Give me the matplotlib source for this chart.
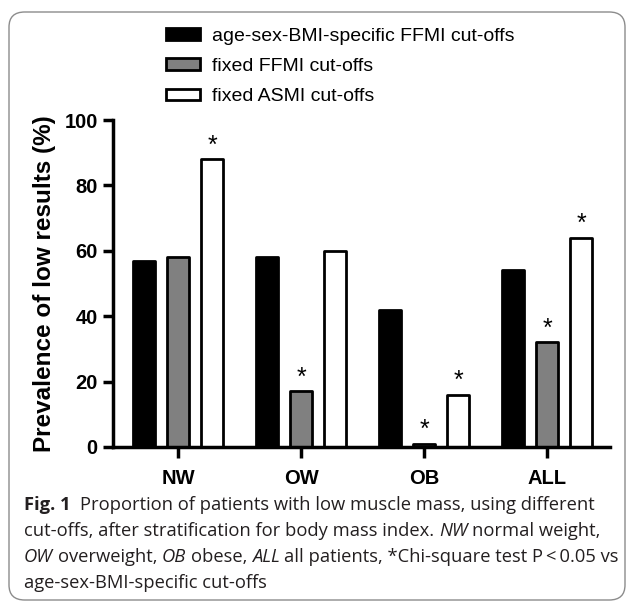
import matplotlib
matplotlib.use('Agg')
import matplotlib.pyplot as plt
import numpy as np
from matplotlib.patches import Patch, FancyBboxPatch

# values
groups = ['NW', 'OW', 'OB', 'ALL']
specific_ffmi = [57, 58, 42, 54]
fixed_ffmi = [58, 17, 1, 32]
fixed_asmi = [88, 60, 16, 64]
series_labels = ['age-sex-BMI-specific FFMI cut-offs', 'fixed FFMI cut-offs', 'fixed ASMI cut-offs']
# * = chi-square p < 0.05 vs age-sex-BMI-specific
star_ffmi = [False, True, True, True]
star_asmi = [True, False, True, True]
yticks = [0, 20, 40, 60, 80, 100]

W, H = 629, 603
chart_font = 'Liberation Sans'
cap_font = 'Open Sans'

fig = plt.figure(figsize=(W / 100, H / 100), dpi=100)

# rounded frame around chart + caption
frame = FancyBboxPatch((9 / W, 1 - 600 / H), 616 / W, 588 / H,
                       boxstyle='round,pad=0,rounding_size=0.025',
                       transform=fig.transFigure, facecolor='white',
                       edgecolor='#8c8c8c', linewidth=1.0, zorder=-5)
fig.patches.append(frame)

ax = fig.add_axes([113 / W, 1 - 447 / H, (610 - 113) / W, (447 - 120) / H])
ax.set_facecolor('none')

x = np.arange(len(groups))
off = 0.277
bw = 0.18
b1 = ax.bar(x - off, specific_ffmi, bw, color='black', edgecolor='black', linewidth=2)
b2 = ax.bar(x, fixed_ffmi, bw, color='#808080', edgecolor='black', linewidth=2)
b3 = ax.bar(x + off, fixed_asmi, bw, color='white', edgecolor='black', linewidth=2)
for bars in (b1, b2, b3):
    for b in bars:
        b.set_joinstyle('round')
        b.set_clip_on(False)

for i in range(len(groups)):
    if star_ffmi[i]:
        ax.text(x[i], fixed_ffmi[i] + 4.2, '*', ha='center', va='center',
                fontsize=18, family=chart_font)
    if star_asmi[i]:
        ax.text(x[i] + off, fixed_asmi[i] + 4.2, '*', ha='center', va='center',
                fontsize=18, family=chart_font)

ax.set_xlim(-0.53, 3.51)
ax.set_ylim(0, 100)
ax.set_yticks(yticks)
ax.set_xticks(x)
ax.set_xticklabels(groups)
for s in ('top', 'right'):
    ax.spines[s].set_visible(False)
for s in ('left', 'bottom'):
    ax.spines[s].set_linewidth(2.5)
ax.tick_params(axis='y', length=7, width=2.5, pad=4)
ax.tick_params(axis='x', length=8, width=2.5, pad=8)
for lab in ax.get_xticklabels() + ax.get_yticklabels():
    lab.set_fontfamily(chart_font)
    lab.set_fontweight('bold')
    lab.set_fontsize(14.5)
ax.set_ylabel('Prevalence of low results (%)', fontsize=17.5, fontweight='bold',
              family=chart_font, labelpad=6)

handles = [Patch(facecolor='black', edgecolor='black', linewidth=2),
           Patch(facecolor='#808080', edgecolor='black', linewidth=2),
           Patch(facecolor='white', edgecolor='black', linewidth=2)]
fig.legend(handles, series_labels, loc='upper left',
           bbox_to_anchor=(166 / W, 1 - 28 / H), frameon=False,
           prop={'family': chart_font, 'size': 14},
           handlelength=1.75, handleheight=0.55, handletextpad=0.6,
           labelspacing=0.68, borderpad=0, borderaxespad=0)

# caption, written segment by segment so bold/italic can be mixed
renderer = fig.canvas.get_renderer()
cap_size = 13.2


def advance(s, style='normal', weight='normal'):
    # width of s including its spaces, measured between two bars
    def w(txt):
        t = fig.text(0, 0, txt, fontsize=cap_size, family=cap_font, style=style, weight=weight)
        v = t.get_window_extent(renderer).width
        t.remove()
        return v
    return w('|' + s + '|') - w('||')


caption = [
    [('Fig. 1', 'normal', 'bold'), ('  Proportion of patients with low muscle mass, using different', 'normal', 'normal')],
    [('cut-offs, after stratification for body mass index. ', 'normal', 'normal'), ('NW', 'italic', 'normal'),
     (' normal weight,', 'normal', 'normal')],
    [('OW', 'italic', 'normal'), (' overweight, ', 'normal', 'normal'), ('OB', 'italic', 'normal'),
     (' obese, ', 'normal', 'normal'), ('ALL', 'italic', 'normal'),
     (' all patients, *Chi-square test P\u2009<\u20090.05 vs', 'normal', 'normal')],
    [('age-sex-BMI-specific cut-offs', 'normal', 'normal')],
]
baselines = [510, 536, 562, 588]

for line, yb in zip(caption, baselines):
    xp = 24.0
    for seg, style, weight in line:
        lead = len(seg) - len(seg.lstrip(' '))
        core = seg.strip(' ')
        xp += advance(' ' * lead, style, weight)
        fig.text(xp / W, 1 - yb / H, core, fontsize=cap_size, family=cap_font,
                 style=style, weight=weight, va='baseline', ha='left', color='#231f20')
        xp += advance(seg.lstrip(' '), style, weight)

fig.savefig('out.png', dpi=100)
